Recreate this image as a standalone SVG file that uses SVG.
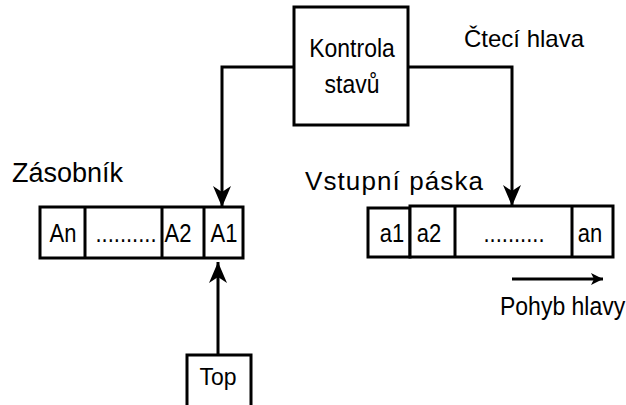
<svg xmlns="http://www.w3.org/2000/svg" width="626" height="405" viewBox="0 0 626 405">
<defs>
<style>
.b{fill:#fff;stroke:#000;stroke-width:3}
.l{fill:none;stroke:#000;stroke-width:3}
text{font-family:"Liberation Sans",Arial,sans-serif;fill:#000}
.t{font-size:22px;text-anchor:middle}
.k{font-size:23px;text-anchor:middle}
.h{font-size:27px}
</style>
<marker id="ah" viewBox="0 0 21 18" refX="21" refY="9" markerWidth="21" markerHeight="18" orient="auto" markerUnits="userSpaceOnUse">
<path d="M0,0 L21,9 L0,18 L6,9 Z" fill="#000"/>
</marker>
<marker id="as" viewBox="0 0 12 12" refX="12" refY="6" markerWidth="12" markerHeight="12" orient="auto" markerUnits="userSpaceOnUse">
<path d="M0,0 L12,6 L0,12 L3,6 Z" fill="#000"/>
</marker>
</defs>
<g id="connectors">
<path class="l" d="M294,67 H222 V207" marker-end="url(#ah)"/>
<path class="l" d="M408,67 H512 V206" marker-end="url(#ah)"/>
<path class="l" d="M218,355 V262" marker-end="url(#ah)"/>
<path class="l" d="M512,279 H603" marker-end="url(#as)"/>
</g>
<g id="kontrola">
<rect class="b" x="294" y="7" width="114" height="118"/>
<text class="k" transform="translate(352,57) scale(1,1.12)">Kontrola</text>
<text class="k" transform="translate(352,93) scale(1,1.12)">stavů</text>
</g>
<g id="cteci-hlava"><text x="464" y="47" style="font-size:24px">Čtecí hlava</text></g>
<g id="zasobnik-label"><text class="h" x="12" y="182">Zásobník</text></g>
<g id="vstupni-label"><text x="305" y="190" style="font-size:26px" textLength="178">Vstupní páska</text></g>
<g id="zasobnik">
<rect class="b" x="40" y="207" width="203" height="51"/>
<path class="l" d="M85,207 V258 M162,207 V258 M204,207 V258"/>
<text class="t" transform="translate(63,242) scale(1,1.15)">An</text>
<text class="t" transform="translate(126,242) scale(1,1.15)">..........</text>
<text class="t" transform="translate(178,242) scale(1,1.15)">A2</text>
<text class="t" transform="translate(224,242) scale(1,1.15)">A1</text>
</g>
<g id="paska">
<rect class="b" x="368" y="208" width="42" height="49"/>
<rect class="b" x="410" y="206" width="203" height="51"/>
<path class="l" d="M455,206 V257 M572,206 V257"/>
<text class="t" transform="translate(392,242) scale(1,1.15)">a1</text>
<text class="t" transform="translate(429,242) scale(1,1.15)">a2</text>
<text class="t" transform="translate(514,242) scale(1,1.15)">..........</text>
<text class="t" transform="translate(590,242) scale(1,1.15)">an</text>
</g>
<g id="top">
<rect class="b" x="187" y="355" width="64" height="55"/>
<text class="k" transform="translate(218,385) scale(1,1.05)">Top</text>
</g>
<g id="pohyb"><text transform="translate(500,315) scale(1,1.1)" style="font-size:23px">Pohyb hlavy</text></g>
</svg>
